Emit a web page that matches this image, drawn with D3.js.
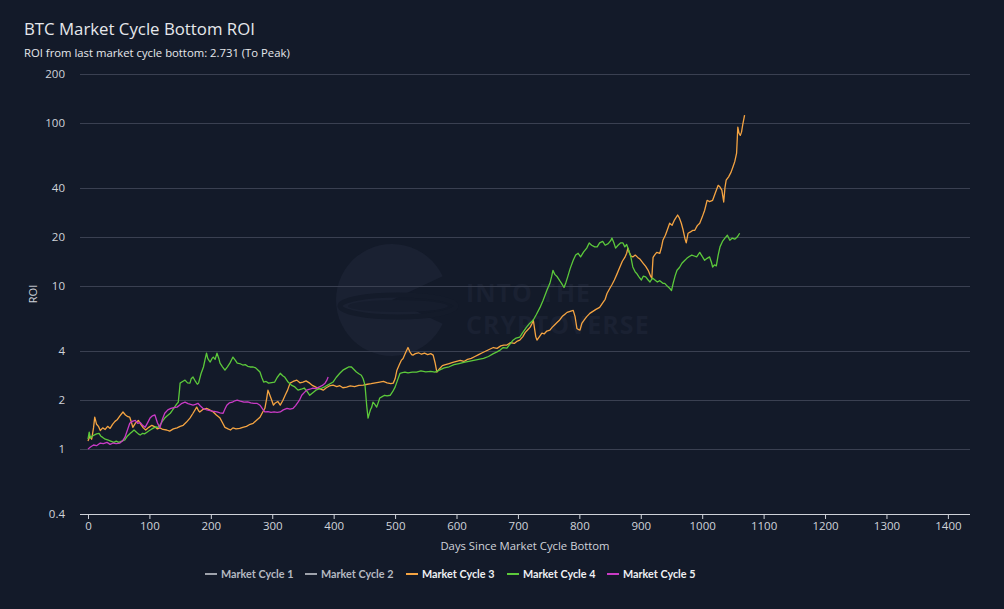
<!DOCTYPE html>
<html><head><meta charset="utf-8">
<script src="https://cdn.jsdelivr.net/npm/d3@7"></script>
<style>
body{margin:0;background:#131a29;}
svg{display:block;font-family:'Open Sans',sans-serif;}
</style>
</head><body>
<svg id="chart" width="1004" height="609"></svg>
<script>
const titleText = "BTC Market Cycle Bottom ROI";
const subtitleText = "ROI from last market cycle bottom: 2.731 (To Peak)";
const yTickValues = [0.4, 1, 2, 4, 10, 20, 40, 100, 200];
const xTickValues = [0, 100, 200, 300, 400, 500, 600, 700, 800, 900, 1000, 1100, 1200, 1300, 1400];
const legendNames = ["Market Cycle 1", "Market Cycle 2", "Market Cycle 3", "Market Cycle 4", "Market Cycle 5"];
const legendActive = [false, false, true, true, true];

// Market Cycle 3 [day, ROI]
const cycle3 = [[0,1.12],[3,1.2],[6,1.15],[9,1.35],[11,1.57],[14,1.42],[17,1.38],[20,1.30],[24,1.35],[28,1.32],[32,1.38],[36,1.34],[40,1.42],[44,1.48],[48,1.52],[52,1.6],[57,1.69],[61,1.62],[65,1.58],[68,1.57],[71,1.45],[73,1.36],[77,1.44],[82,1.5],[86,1.42],[90,1.35],[94,1.31],[99,1.36],[104,1.40],[109,1.37],[113,1.33],[117,1.35],[122,1.32],[128,1.31],[133,1.29],[139,1.33],[145,1.35],[150,1.38],[155,1.40],[160,1.46],[166,1.55],[171,1.66],[177,1.81],[180,1.72],[182,1.69],[187,1.75],[193,1.78],[198,1.74],[204,1.69],[209,1.62],[215,1.55],[219,1.45],[223,1.36],[228,1.33],[232,1.31],[236,1.35],[241,1.33],[247,1.34],[252,1.36],[258,1.38],[264,1.42],[269,1.44],[274,1.5],[280,1.57],[285,1.70],[288,1.78],[291,2.05],[293,2.3],[296,2.15],[299,2.0],[302,1.86],[305,1.92],[309,1.96],[313,1.86],[317,1.98],[321,2.14],[325,2.3],[329,2.54],[334,2.6],[340,2.65],[345,2.55],[350,2.58],[355,2.62],[361,2.54],[366,2.45],[371,2.40],[377,2.35],[383,2.30],[388,2.38],[393,2.44],[399,2.47],[405,2.42],[410,2.45],[415,2.38],[421,2.40],[427,2.44],[434,2.42],[441,2.46],[448,2.47],[455,2.5],[461,2.52],[468,2.55],[475,2.58],[481,2.6],[487,2.55],[493,2.52],[497,2.54],[500,2.7],[503,3.05],[507,3.3],[510,3.5],[513,3.6],[517,3.9],[521,4.2],[524,3.95],[527,3.8],[529,3.77],[533,3.85],[538,3.9],[543,3.82],[548,3.88],[553,3.8],[558,3.85],[562,3.77],[565,3.4],[568,2.97],[572,3.1],[577,3.25],[582,3.3],[588,3.35],[594,3.4],[600,3.45],[606,3.5],[612,3.45],[618,3.55],[624,3.6],[630,3.7],[636,3.8],[642,3.9],[648,4.0],[654,4.1],[660,4.2],[666,4.15],[672,4.3],[677,4.35],[682,4.35],[688,4.5],[694,4.45],[699,4.6],[703,4.66],[708,4.9],[712,5.2],[716,5.4],[720,5.6],[723,5.9],[725,6.2],[727,5.5],[729,4.9],[731,4.66],[735,4.9],[739,5.15],[743,5.1],[747,5.3],[752,5.37],[756,5.6],[760,5.8],[764,6.0],[768,6.2],[772,6.5],[776,6.7],[780,6.9],[785,7.0],[790,7.1],[793,6.5],[796,5.5],[799,5.4],[801,5.37],[804,5.9],[808,6.2],[812,6.5],[817,6.8],[822,7.0],[827,7.2],[833,7.4],[838,7.9],[842,8.3],[845,9.0],[849,9.6],[853,10.2],[857,10.9],[861,11.8],[866,13.1],[870,14.2],[874,15.0],[877,15.9],[879,17.1],[881,16.2],[884,15.3],[887,15.1],[891,15.5],[895,15.0],[899,14.6],[904,13.8],[908,13.2],[912,12.5],[916,11.5],[918,11.2],[920,15.0],[923,15.6],[926,16.1],[931,15.9],[934,17.5],[936,19.1],[940,20.5],[943,22],[947,24.3],[951,23.6],[955,25.5],[960,27.3],[963,26.1],[966,24.3],[969,22],[972,19.5],[974,18.4],[977,21.1],[981,21.5],[985,22],[988,22],[992,23.5],[996,24.3],[1000,26.5],[1004,29.2],[1008,33.6],[1012,33.0],[1017,33.6],[1021,37],[1026,41.5],[1029,40.5],[1032,38.8],[1035,32.8],[1037,40],[1039,44.6],[1043,46.8],[1047,50],[1050,53.8],[1053,58],[1056,65.5],[1058,94.5],[1060,86.6],[1062,84],[1064,88],[1066,97.7],[1069,112]];

// Market Cycle 4 [day, ROI]
const cycle4 = [[0,1.15],[2,1.27],[4,1.17],[7,1.2],[10,1.22],[14,1.24],[18,1.25],[21,1.2],[24,1.18],[28,1.15],[32,1.14],[37,1.12],[42,1.1],[46,1.12],[50,1.1],[55,1.12],[60,1.14],[64,1.2],[69,1.25],[72,1.28],[75,1.31],[79,1.27],[82,1.24],[85,1.22],[89,1.25],[92,1.24],[96,1.27],[100,1.3],[104,1.33],[107,1.35],[111,1.37],[114,1.36],[117,1.40],[121,1.48],[125,1.55],[129,1.6],[134,1.66],[137,1.72],[141,1.81],[144,1.88],[147,1.94],[149,2.3],[150,2.54],[154,2.6],[158,2.65],[162,2.55],[166,2.54],[168,2.7],[171,2.77],[175,2.6],[178,2.5],[180,2.54],[184,2.9],[188,3.19],[191,3.6],[193,3.88],[195,3.6],[197,3.5],[199,3.42],[202,3.6],[204,3.67],[207,3.55],[210,3.88],[213,3.6],[215,3.37],[219,3.2],[223,3.05],[227,3.2],[231,3.37],[234,3.55],[236,3.67],[240,3.5],[243,3.37],[247,3.35],[252,3.28],[256,3.3],[260,3.22],[264,3.19],[269,3.19],[273,3.15],[277,3.05],[280,2.97],[283,2.75],[286,2.58],[290,2.6],[294,2.54],[299,2.56],[304,2.58],[308,2.75],[313,2.92],[317,2.82],[320,2.77],[325,2.6],[331,2.47],[336,2.42],[342,2.30],[347,2.33],[352,2.37],[357,2.25],[361,2.14],[366,2.22],[371,2.30],[376,2.34],[381,2.37],[386,2.42],[391,2.48],[399,2.58],[404,2.75],[410,2.92],[415,3.05],[421,3.14],[425,3.2],[429,3.19],[433,3.08],[437,2.97],[441,2.9],[445,2.84],[448,2.7],[451,2.47],[453,2.0],[454,1.81],[456,1.55],[458,1.65],[460,1.75],[462,1.81],[464,1.94],[467,1.88],[470,1.81],[473,1.95],[475,2.06],[479,2.1],[483,2.14],[487,2.12],[492,2.14],[496,2.25],[500,2.40],[504,2.65],[508,2.92],[512,2.95],[516,2.97],[521,2.94],[528,2.97],[535,2.97],[542,3.02],[550,2.98],[558,3.0],[565,2.97],[572,3.05],[580,3.15],[588,3.2],[596,3.3],[604,3.35],[612,3.4],[620,3.45],[628,3.5],[636,3.55],[644,3.6],[652,3.7],[660,3.85],[666,3.95],[671,4.05],[676,4.2],[682,4.16],[687,4.4],[692,4.66],[697,4.8],[703,4.87],[708,5.2],[714,5.6],[719,5.9],[725,6.2],[730,6.7],[736,7.4],[741,8.2],[747,9.4],[752,10.4],[755,11.5],[757,12.5],[760,11.8],[764,11.4],[768,10.8],[771,10.4],[775,9.8],[778,10.5],[781,11.4],[785,12.8],[790,14.4],[794,15.5],[798,15.9],[802,15.1],[807,16.2],[812,17.1],[816,18.4],[820,17.8],[825,17.4],[829,17.4],[833,18.4],[838,18.8],[842,17.8],[847,18.2],[851,19.0],[853,19.7],[856,18.5],[859,17.1],[863,17.8],[867,18.4],[871,18.4],[874,17.4],[877,18.0],[880,16.7],[884,15.0],[887,13.1],[891,12.2],[893,12.0],[897,11.4],[901,10.9],[904,11.5],[908,11.4],[912,10.9],[915,10.6],[919,11.2],[923,10.9],[927,10.6],[931,10.8],[936,10.4],[939,10.4],[943,10.0],[947,9.7],[950,9.4],[953,10.5],[956,11.6],[959,12.5],[963,13.0],[967,13.8],[971,14.3],[975,14.8],[979,15.2],[983,15.5],[987,15.3],[991,15.1],[996,16.1],[1000,15.2],[1004,14.4],[1008,14.8],[1012,15.1],[1015,14.0],[1017,13.1],[1020,13.5],[1023,13.3],[1026,15.5],[1029,17.4],[1033,18.8],[1037,19.7],[1041,20.5],[1045,19.1],[1049,19.7],[1053,19.4],[1057,20],[1061,21.1]];

// Market Cycle 5 [day, ROI]
const cycle5 = [[0,1.0],[4,1.03],[9,1.06],[14,1.05],[20,1.09],[25,1.08],[31,1.10],[36,1.07],[41,1.09],[46,1.08],[52,1.09],[56,1.12],[60,1.18],[64,1.3],[68,1.44],[72,1.48],[77,1.5],[81,1.44],[85,1.46],[89,1.40],[93,1.36],[97,1.45],[101,1.55],[105,1.6],[109,1.62],[113,1.45],[117,1.35],[121,1.52],[125,1.66],[130,1.74],[135,1.78],[140,1.8],[145,1.81],[149,1.86],[153,1.91],[158,1.94],[163,1.90],[167,1.88],[171,1.86],[175,1.88],[179,1.91],[183,1.84],[187,1.78],[192,1.75],[197,1.73],[203,1.71],[210,1.69],[215,1.67],[220,1.66],[223,1.76],[226,1.86],[230,1.92],[235,1.94],[239,1.98],[243,2.0],[248,1.97],[254,1.94],[260,1.95],[265,1.92],[270,1.91],[275,1.91],[280,1.86],[285,1.75],[288,1.69],[293,1.70],[298,1.68],[303,1.69],[308,1.68],[313,1.69],[318,1.74],[324,1.78],[329,1.76],[334,1.78],[338,1.85],[342,1.94],[345,2.02],[348,2.14],[352,2.22],[356,2.3],[361,2.33],[366,2.37],[371,2.35],[376,2.40],[381,2.45],[386,2.54],[389,2.65],[391,2.77]];

const seriesData = [null, null, cycle3, cycle4, cycle5];
const seriesColors = ["#9ea2ab", "#9ea2ab", "#f5a442", "#5cc93b", "#c93bc5"];

const svg = d3.select("#chart");
const W = 1004, H = 609;
const mLeft = 80, mRight = 970, mTop = 74, mBottom = 514;

svg.append("rect").attr("width", W).attr("height", H).attr("fill", "#131a29");

const x = d3.scaleLinear().domain([-13, 1436]).range([mLeft, mRight]);
const y = d3.scaleLog().domain([0.4, 200]).range([mBottom, mTop]);

// watermark (faint logo + text)
const wm = svg.append("g");
const wcx = 392, wcy = 300, wr = 56;
const wArc = d3.arc().innerRadius(0).outerRadius(wr).startAngle(Math.PI * 0.64).endAngle(Math.PI * 2.36);
wm.append("path").attr("d", wArc()).attr("transform", `translate(${wcx},${wcy})`).attr("fill", "#1a2132");
wm.append("ellipse").attr("cx", wcx + 6).attr("cy", wcy + 6).attr("rx", 58).attr("ry", 11)
  .attr("fill", "none").attr("stroke", "#141b2a").attr("stroke-width", 5);
wm.append("ellipse").attr("cx", wcx + 6).attr("cy", wcy + 6).attr("rx", 50).attr("ry", 6)
  .attr("fill", "#161d2d");
wm.append("text").attr("x", 466).attr("y", 302).text("INTO THE")
  .attr("font-size", 25).attr("font-weight", 700).attr("fill", "#1a2132").attr("letter-spacing", 1);
wm.append("text").attr("x", 466).attr("y", 334).text("CRYPTOVERSE")
  .attr("font-size", 25).attr("font-weight", 700).attr("fill", "#1a2132").attr("letter-spacing", 1);

// grid lines
svg.append("g").selectAll("line").data(yTickValues.filter(v => v !== 0.4)).join("line")
  .attr("x1", mLeft).attr("x2", mRight)
  .attr("y1", d => Math.round(y(d)) + 0.5).attr("y2", d => Math.round(y(d)) + 0.5)
  .attr("stroke", "#3a4051").attr("stroke-width", 1);

// y axis labels
const yAxis = d3.axisLeft(y).tickValues(yTickValues).tickFormat(d3.format("~g")).tickSize(0).tickPadding(0);
const yg = svg.append("g").attr("transform", `translate(${mLeft - 15},0)`).call(yAxis);
yg.select(".domain").remove();
yg.selectAll("text").attr("fill", "#d0d3da").attr("font-size", 11.5).attr("font-family", "'Open Sans',sans-serif");

// x axis
const xAxis = d3.axisBottom(x).tickValues(xTickValues).tickFormat(d3.format("d")).tickSize(5).tickPadding(3);
const xg = svg.append("g").attr("transform", `translate(0,${mBottom})`).call(xAxis);
xg.select(".domain").attr("stroke", "#cfd2d8").attr("d", `M${mLeft},0.5H${mRight}`);
xg.selectAll(".tick line").attr("stroke", "#cfd2d8");
xg.selectAll("text").attr("fill", "#d0d3da").attr("font-size", 11.5).attr("font-family", "'Open Sans',sans-serif");

// series lines
const line = d3.line().x(d => x(d[0])).y(d => y(d[1])).curve(d3.curveLinear);
const lineG = svg.append("g");
seriesData.forEach((data, i) => {
  if (!data) return;
  lineG.append("path").datum(data).attr("d", line)
    .attr("fill", "none").attr("stroke", seriesColors[i]).attr("stroke-width", 1.3)
    .attr("stroke-linejoin", "round");
});

// titles
svg.append("text").attr("x", 24).attr("y", 35).text(titleText)
  .attr("fill", "#e6e8ec").attr("font-size", 16.8);
svg.append("text").attr("x", 24).attr("y", 57).text(subtitleText)
  .attr("fill", "#e6e8ec").attr("font-size", 11.3);
svg.append("text").attr("transform", "translate(37,294) rotate(-90)").attr("text-anchor", "middle")
  .text("ROI").attr("fill", "#d0d3da").attr("font-size", 11);
svg.append("text").attr("x", (mLeft + mRight) / 2).attr("y", 550).attr("text-anchor", "middle")
  .text("Days Since Market Cycle Bottom").attr("fill", "#d0d3da").attr("font-size", 11.3);

// legend
const legendX = [205, 305, 406, 507, 607];
const lg = svg.append("g");
legendNames.forEach((name, i) => {
  const g = lg.append("g").attr("transform", `translate(${legendX[i]},574)`);
  g.append("line").attr("x1", 0).attr("x2", 12).attr("y1", 0).attr("y2", 0)
    .attr("stroke", seriesColors[i]).attr("stroke-width", 2);
  g.append("text").attr("x", 16).attr("y", 4).text(name)
    .attr("font-family", "Lato, sans-serif").attr("font-size", 10.8).attr("font-weight", 700)
    .attr("fill", legendActive[i] ? "#eef0f3" : "#b5b9c1");
});
</script>
</body></html>
